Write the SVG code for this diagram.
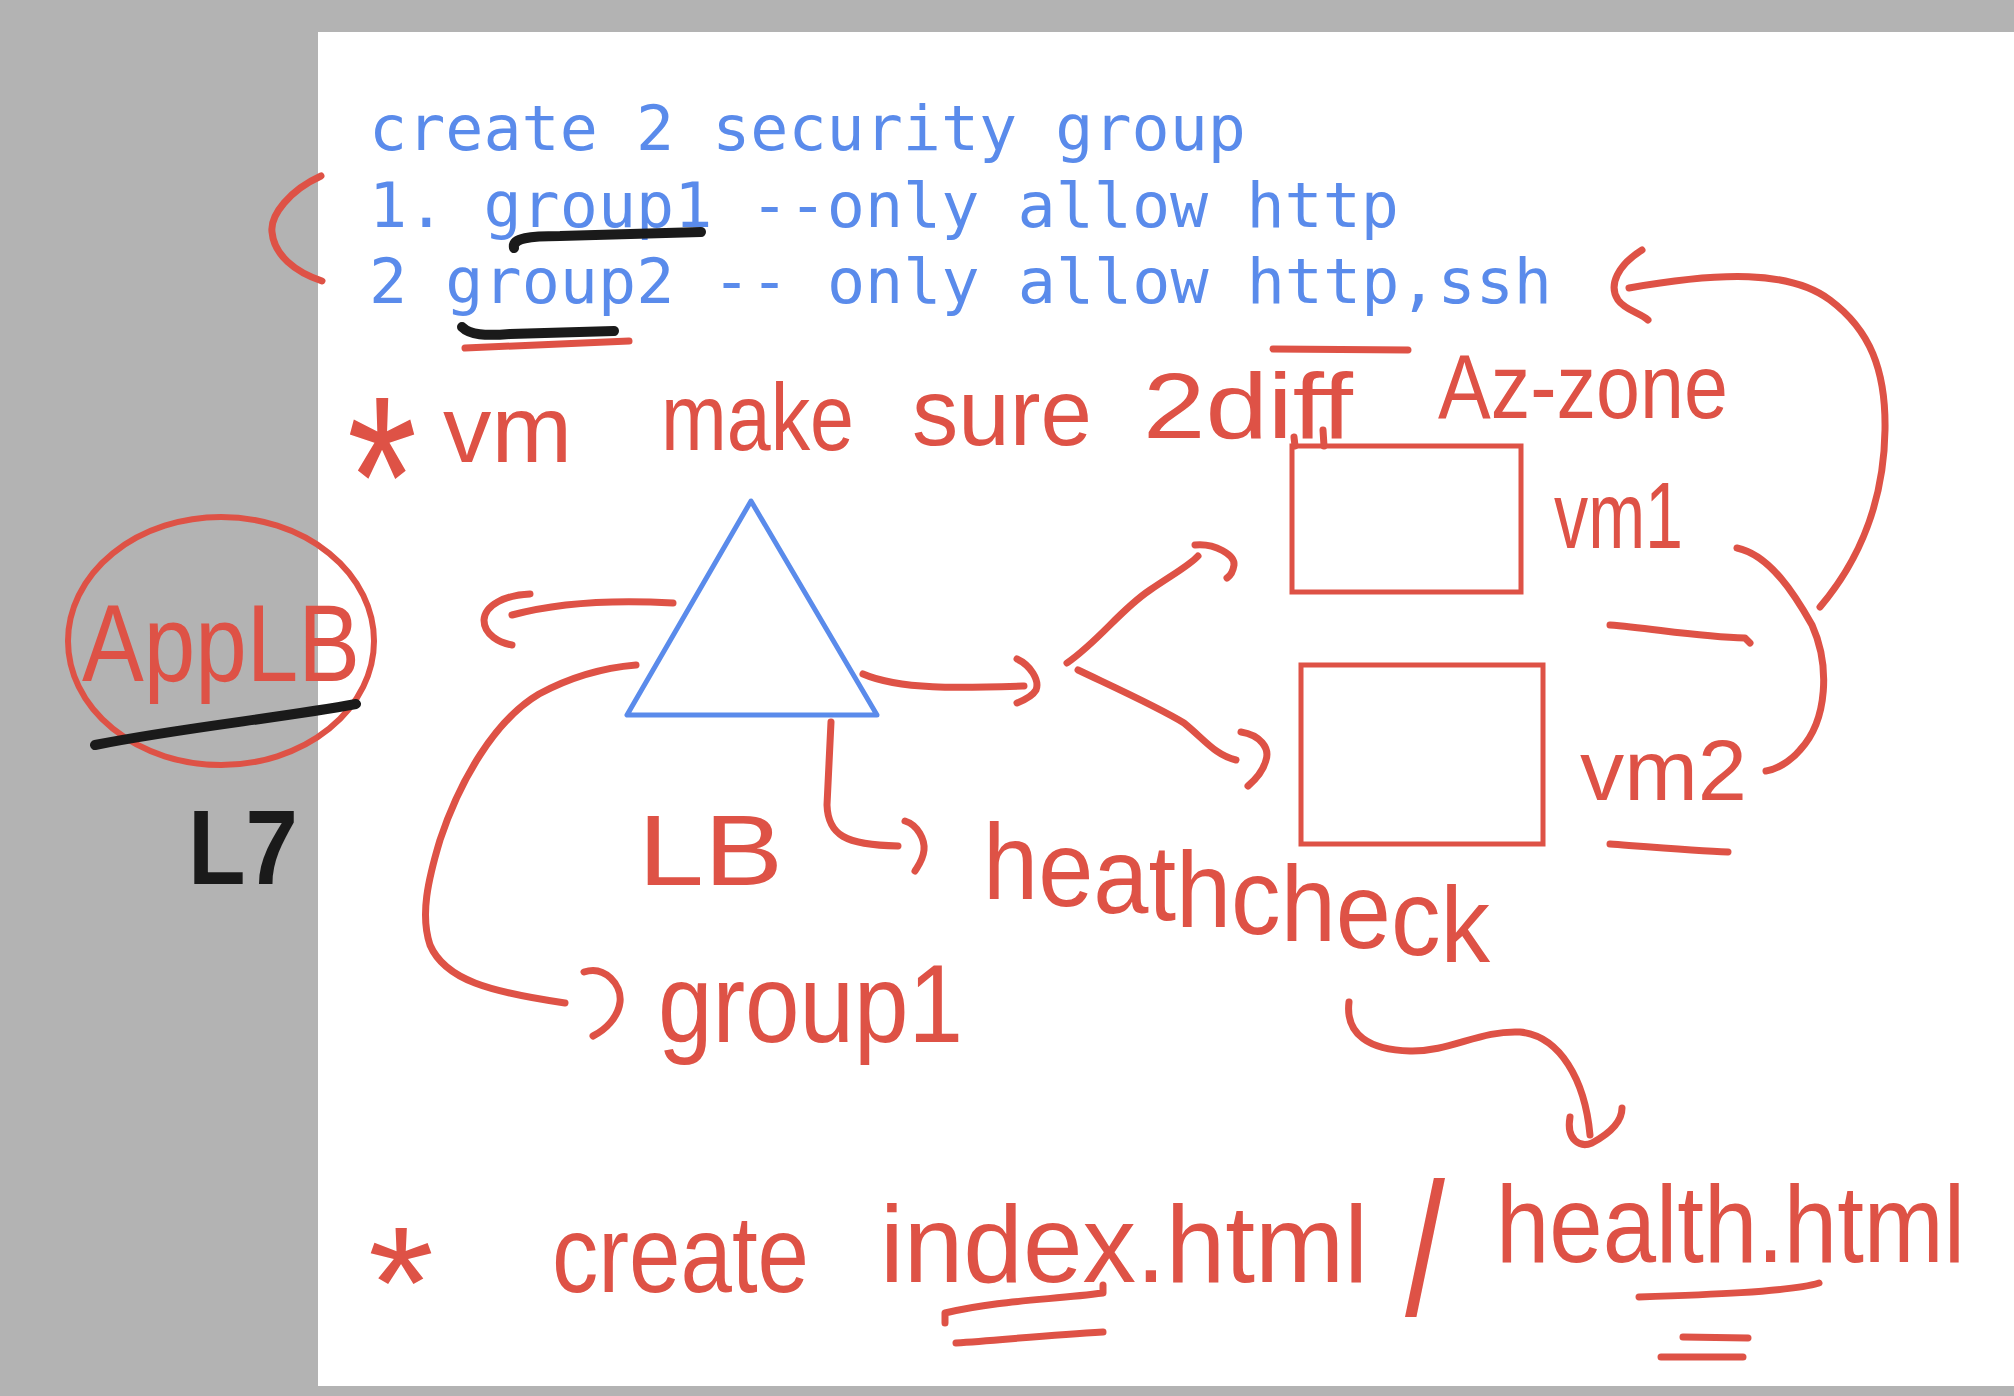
<svg xmlns="http://www.w3.org/2000/svg" width="2014" height="1396" viewBox="0 0 2014 1396">
<style>
.mono{font-family:"DejaVu Sans Mono","Liberation Mono",monospace;font-size:63px;fill:#5A8BEB}
.hand{font-family:"Liberation Sans Narrow","Liberation Sans",sans-serif;fill:#DE5246}
.ink{fill:none;stroke:#DE5246;stroke-width:7;stroke-linecap:round;stroke-linejoin:round}
.blk{fill:none;stroke:#1A1A1A;stroke-width:10;stroke-linecap:round}
.box{fill:none;stroke:#DE5246;stroke-width:5}
</style>
<rect x="0" y="0" width="2014" height="1396" fill="#B3B3B3"/>
<rect x="318" y="32" width="1696" height="1354" fill="#FFFFFF"/>

<g id="header">
<text class="mono" x="369" y="150" textLength="877" lengthAdjust="spacingAndGlyphs">create 2 security group</text>
<text class="mono" x="369" y="227" textLength="1030" lengthAdjust="spacingAndGlyphs">1. group1 --only allow http</text>
<text class="mono" x="369" y="303" textLength="1183" lengthAdjust="spacingAndGlyphs">2 group2 -- only allow http,ssh</text>
</g>

<g id="note-vm">
<text class="hand" x="347" y="557" font-size="230" textLength="70" lengthAdjust="spacingAndGlyphs">*</text>
<text class="hand" x="443" y="462" font-size="95" textLength="129" lengthAdjust="spacingAndGlyphs">vm</text>
<text class="hand" x="661" y="450" font-size="95" textLength="193" lengthAdjust="spacingAndGlyphs">make</text>
<text class="hand" x="912" y="445" font-size="95" textLength="180" lengthAdjust="spacingAndGlyphs">sure</text>
<text class="hand" x="1143" y="438" font-size="92" textLength="210" lengthAdjust="spacingAndGlyphs">2diff</text>
<text class="hand" x="1438" y="418" font-size="90" textLength="290" lengthAdjust="spacingAndGlyphs">Az-zone</text>
</g>

<g id="appLB">
<ellipse cx="221" cy="641" rx="153" ry="124" fill="none" stroke="#DE5246" stroke-width="6"/>
<text class="hand" x="82" y="681" font-size="110" textLength="278" lengthAdjust="spacingAndGlyphs">AppLB</text>
<path class="blk" d="M95,745 C180,728 280,718 356,704"/>
<text x="188" y="884" font-family="Liberation Sans, sans-serif" font-weight="bold" font-size="105" fill="#1A1A1A" textLength="110" lengthAdjust="spacingAndGlyphs">L7</text>
</g>

<g id="lb">
<polygon points="751,501 627,715 877,715" fill="none" stroke="#5A8BEB" stroke-width="5" stroke-linejoin="round"/>
<text class="hand" x="638" y="885" font-size="100" textLength="145" lengthAdjust="spacingAndGlyphs">LB</text>
</g>

<g id="vm1">
<rect class="box" x="1292" y="446" width="229" height="146"/>
<text class="hand" x="1554" y="548" font-size="95" textLength="129" lengthAdjust="spacingAndGlyphs">vm1</text>
</g>

<g id="vm2">
<rect class="box" x="1301" y="665" width="242" height="179"/>
<text class="hand" x="1580" y="800" font-size="85" textLength="167" lengthAdjust="spacingAndGlyphs">vm2</text>
</g>

<g id="healthcheck">
<text class="hand" x="983" y="899" dy="0 7 7 7 7 7 7 7 7 7" font-size="108" textLength="507" lengthAdjust="spacingAndGlyphs">heathcheck</text>
</g>

<g id="group1">
<text class="hand" x="658" y="1042" font-size="112" textLength="305" lengthAdjust="spacingAndGlyphs">group1</text>
</g>

<g id="note-create">
<text class="hand" x="368" y="1338" font-size="160" textLength="66" lengthAdjust="spacingAndGlyphs">*</text>
<text class="hand" x="552" y="1292" font-size="110" textLength="257" lengthAdjust="spacingAndGlyphs">create</text>
<text class="hand" x="880" y="1282" font-size="110" textLength="488" lengthAdjust="spacingAndGlyphs">index.html</text>
<text class="hand" x="1405" y="1315" font-size="190" textLength="40" lengthAdjust="spacingAndGlyphs">/</text>
<text class="hand" x="1496" y="1262" font-size="110" textLength="469" lengthAdjust="spacingAndGlyphs">health.html</text>
</g>

<g id="marks">
<path class="ink" d="M321,176 C290,190 270,215 272,232 C274,255 295,272 322,281"/>
<path class="blk" d="M514,248 C512,238 530,236 560,236 L701,232"/>
<path class="blk" d="M462,327 C470,335 485,336 510,334 L614,331"/>
<path class="ink" stroke-width="8" d="M465,348 L629,341"/>
<path class="ink" stroke-width="8" d="M1273,349 L1408,350"/>
<path class="ink" d="M1294,437 L1295,446 M1323,430 L1324,446"/>
<path class="ink" stroke-width="8" d="M1610,625 C1650,628 1700,637 1745,638 L1750,643"/>
<path class="ink" stroke-width="8" d="M1610,844 C1650,847 1700,851 1728,852"/>
<path class="ink" stroke-width="9" d="M945,1323 L945,1313 C1000,1300 1050,1300 1103,1293 L1103,1285"/>
<path class="ink" stroke-width="9" d="M956,1343 C1000,1340 1050,1335 1103,1332"/>
<path class="ink" stroke-width="9" d="M1639,1297 C1700,1295 1790,1292 1819,1283"/>
<path class="ink" stroke-width="9" d="M1683,1337 L1748,1338 M1661,1357 L1743,1357"/>
</g>

<g id="connectors">
<path class="ink" d="M1820,607 C1860,560 1884,500 1885,430 C1886,370 1870,330 1830,300 C1790,270 1720,272 1629,288"/>
<path class="ink" d="M1642,250 C1618,265 1608,285 1618,300 C1625,310 1640,313 1648,320"/>
<path class="ink" d="M1737,548 C1770,555 1795,595 1812,625 C1830,665 1828,720 1800,750 C1790,762 1775,770 1766,771"/>
<path class="ink" d="M863,674 C900,690 960,688 1024,686"/>
<path class="ink" d="M1017,659 C1030,665 1040,680 1036,690 C1032,697 1022,701 1017,703"/>
<path class="ink" d="M1067,663 C1100,640 1120,610 1150,590 C1175,573 1190,565 1198,556"/>
<path class="ink" d="M1195,545 C1215,543 1235,555 1234,565 C1233,572 1230,576 1227,578"/>
<path class="ink" d="M1078,670 C1120,690 1160,708 1184,723 C1205,740 1215,755 1236,760"/>
<path class="ink" d="M1241,732 C1260,735 1270,748 1266,760 C1263,772 1255,780 1248,786"/>
<path class="ink" d="M673,603 C620,600 560,602 512,615"/>
<path class="ink" d="M530,594 C505,595 485,605 484,620 C484,635 500,643 512,645"/>
<path class="ink" d="M636,665 C600,668 565,680 539,694 C495,720 460,780 440,840 C428,880 420,915 430,945 C445,980 490,992 565,1003"/>
<path class="ink" d="M584,972 C605,965 622,985 620,1002 C618,1018 605,1030 593,1036"/>
<path class="ink" d="M831,722 L827,805 C828,835 845,845 898,846"/>
<path class="ink" d="M905,821 C918,825 925,840 924,850 C923,860 918,866 915,871"/>
<path class="ink" d="M1349,1002 C1345,1035 1370,1050 1410,1051 C1450,1052 1480,1030 1520,1032 C1560,1036 1585,1080 1590,1135"/>
<path class="ink" d="M1570,1117 C1566,1140 1580,1148 1592,1143 C1605,1136 1622,1125 1622,1108"/>
</g>
</svg>
